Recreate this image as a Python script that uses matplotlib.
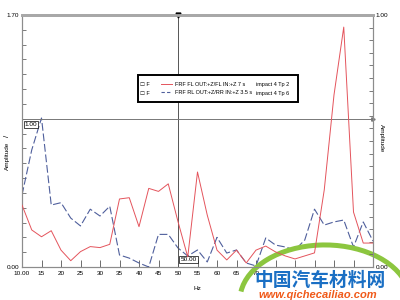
import matplotlib.pyplot as plt
import matplotlib.patches as mpatches
import numpy as np

plt.rcParams['font.family'] = ['Liberation Sans', 'DejaVu Sans']

# frequency grid, Hz
freq = [10, 12.5, 15, 17.5, 20, 22.5, 25, 27.5, 30, 32.5, 35, 37.5, 40,
        42.5, 45, 47.5, 50, 52.5, 55, 57.5, 60, 62.5, 65, 67.5, 70, 72.5,
        75, 77.5, 80, 82.5, 85, 87.5, 90, 92.5, 95, 97.5, 100]

# FRF FL (right axis, 0..1)
fl_amp = [0.246, 0.147, 0.12, 0.144, 0.067, 0.025, 0.061, 0.081, 0.077, 0.09,
          0.27, 0.275, 0.16, 0.312, 0.30, 0.33, 0.18, 0.04, 0.377, 0.206,
          0.067, 0.028, 0.067, 0.016, 0.067, 0.083, 0.06, 0.044, 0.032, 0.044,
          0.056, 0.306, 0.683, 0.952, 0.218, 0.095, 0.095]

# FRF RL (left axis, 0..1.70)
rl_amp = [0.486, 0.79, 1.005, 0.418, 0.434, 0.33, 0.277, 0.39, 0.344, 0.41,
          0.081, 0.06, 0.027, 0.0, 0.22, 0.22, 0.128, 0.074, 0.115, 0.034,
          0.2, 0.094, 0.115, 0.027, 0.007, 0.196, 0.148, 0.135, 0.115, 0.182,
          0.39, 0.283, 0.304, 0.317, 0.135, 0.304, 0.175]

# labels from 75 Hz on sit under the watermark in the source picture
xticks = [10, 15, 20, 25, 30, 35, 40, 45, 50, 55, 60, 65, 70, 75, 80, 85, 90, 95, 100]
xlabels = ['10.00', '15', '20', '25', '30', '35', '40', '45', '50', '55', '60',
           '65', '70', '', '', '', '', '', '']

lab1 = 'FRF FL OUT:+Z/FL IN:+Z 7 s'
lab2 = 'FRF RL OUT:+Z/RR IN:+Z 3.5 s'
imp1 = 'impact 4 Tp 2'
imp2 = 'impact 4 Tp 6'

cursor_x = 50
cursor_y = 1.0

red = '#e4545c'
blue = '#4f5f9c'
grey = '#8c8c8c'
fs = 4.6
lfs = 3.95

fig = plt.figure(figsize=(4, 3), dpi=100)
ax = fig.add_axes([22 / 400, 33 / 300, 351 / 400, 252 / 300])
ax2 = ax.twinx()

ax.plot(freq, rl_amp, color=blue, lw=0.8, dashes=(7, 2.5), zorder=3)
ax2.plot(freq, fl_amp, color=red, lw=0.7, zorder=3)

ax.set_xlim(10, 100)
ax.set_ylim(0, 1.70)
ax2.set_ylim(0, 1.0)

ax.set_xticks(xticks)
ax.set_xticklabels(xlabels, fontsize=fs)
ax.set_xticks(np.arange(20, 100, 10), minor=True)
ax.tick_params(axis='x', which='major', direction='in', length=5, width=0.6,
               color='#555555', pad=3)
ax.tick_params(axis='x', which='minor', direction='in', length=10, width=0.8,
               color='#555555')

ax.set_yticks([0, 1.70])
ax.set_yticklabels(['0.00', '1.70'], fontsize=fs)
ax.set_yticks(np.arange(0.1, 1.7, 0.1), minor=True)
ax.tick_params(axis='y', which='both', direction='in', length=3, width=0.6,
               color='#666666', pad=2)

ax2.set_yticks([0, 1.0])
ax2.set_yticklabels(['0.00', '1.00'], fontsize=fs)
ax2.set_yticks(np.arange(0.05, 1.0, 0.05), minor=True)
ax2.tick_params(axis='y', which='both', direction='in', length=3, width=0.6,
                color='#666666', pad=2)

for a in (ax, ax2):
    for s in a.spines.values():
        s.set_color(grey)
        s.set_linewidth(0.8)
    a.spines['top'].set_linewidth(2)
    a.spines['top'].set_color('#a8a8a8')

ax.set_xlabel('Hz', fontsize=fs, labelpad=7)
ax.text(-0.042, 0.52, '/', transform=ax.transAxes, fontsize=fs + 1, rotation=90,
        ha='center', va='center')
ax.text(-0.042, 0.44, 'Amplitude', transform=ax.transAxes, fontsize=fs,
        rotation=90, ha='center', va='center')
ax2.text(1.025, 0.51, 'Amplitude', transform=ax2.transAxes, fontsize=fs,
         rotation=270, ha='center', va='center')

# cursors
ax.axvline(cursor_x, color='#555555', lw=0.7, zorder=4)
ax.axhline(cursor_y, color='#777777', lw=0.7, zorder=4)
ax.plot([cursor_x], [1.0], transform=ax.get_xaxis_transform(), marker='v',
        color='black', ms=3.5, clip_on=False, zorder=6)
ax.plot([1.0], [cursor_y], transform=ax.get_yaxis_transform(), marker='>',
        color='#777777', ms=2.5, clip_on=False, zorder=6)
ax.text(cursor_x + 0.6, 0.02, '50.00', fontsize=fs, ha='left', va='bottom',
        transform=ax.get_xaxis_transform(), zorder=7,
        bbox=dict(boxstyle='square,pad=0.15', fc='white', ec='black', lw=0.5))
ax.text(0.008, cursor_y - 0.02, '1.00', fontsize=fs, ha='left', va='top',
        transform=ax.get_yaxis_transform(), zorder=7,
        bbox=dict(boxstyle='square,pad=0.15', fc='white', ec='black', lw=0.5))

# legend box
box = mpatches.Rectangle((0.3305, 0.655), 0.456, 0.107, transform=ax.transAxes,
                         fc='white', ec='black', lw=1.4, zorder=8)
ax.add_patch(box)
for yy, imp in ((0.726, imp1), (0.690, imp2)):
    ax.text(0.336, yy, '\u2610 F', transform=ax.transAxes, fontsize=lfs,
            va='center', zorder=9)
    ax.text(0.668, yy, imp, transform=ax.transAxes, fontsize=lfs,
            va='center', zorder=9)
h1, = ax.plot([], [], color=red, lw=0.7)
h2, = ax.plot([], [], color=blue, lw=0.8, dashes=(3, 2))
leg = ax.legend([h1, h2], [lab1, lab2], loc='center left',
                bbox_to_anchor=(0.397, 0.708), frameon=False, fontsize=lfs,
                handlelength=2.0, handletextpad=0.5, labelspacing=0.55,
                borderpad=0, borderaxespad=0)
leg.set_zorder(10)

# watermark
ax.add_patch(mpatches.Arc((0.863, -0.131), 0.484, 0.437, theta1=15, theta2=172,
                          transform=ax.transAxes, color='#8cc63f', lw=3.6,
                          clip_on=False, zorder=11))
fig.text(0.635, 0.047, '中国汽车材料网', fontsize=13.5, fontweight='bold',
         color='#1a6fc4', family=['Noto Sans CJK SC', 'DejaVu Sans'],
         style='italic', zorder=12)
fig.text(0.645, 0.006, 'www.qichecailiao.com', fontsize=8, fontweight='bold',
         color='#f05a1a', style='italic', zorder=12)

fig.savefig('out.png', dpi=100)
